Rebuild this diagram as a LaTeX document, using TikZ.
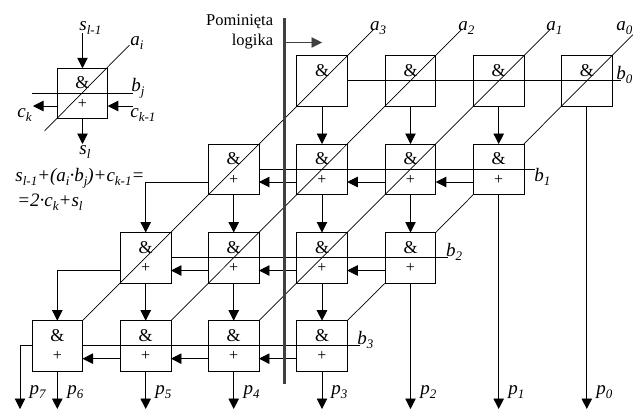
\documentclass[tikz,border=0pt]{standalone}
\usepackage{fontspec}
\setmainfont{Liberation Serif}
\usetikzlibrary{arrows.meta}
\newcommand{\sbx}[1]{\raisebox{-0.22em}{\fontsize{13}{13}\selectfont\itshape #1}}
\begin{document}
\begin{tikzpicture}[x=1pt,y=-1pt,line width=0.85pt,
  cell/.style={draw,rectangle,minimum width=50.5pt,minimum height=50.5pt,inner sep=0pt,outer sep=0pt},
  amp/.style={inner sep=0pt,font=\fontsize{18}{18}\selectfont},
  plus/.style={inner sep=0pt,font=\fontsize{16}{16}\selectfont},
  lab/.style={inner sep=0pt,anchor=base west,font=\fontsize{19}{19}\selectfont\itshape},
  note/.style={inner sep=0pt,anchor=base east,font=\fontsize{16.5}{16.5}\selectfont},
  arr/.style={-{Triangle[length=10.5pt,width=10.5pt]}},
  thin line/.style={line width=0.7pt}]
\useasboundingbox (0,0) rectangle (633,408);
\fill[white] (0,0) rectangle (633,408);
% free ends
\coordinate (ta3) at (373,30);
\coordinate (ta2) at (461,30);
\coordinate (ta1) at (549.5,30);
\coordinate (ta0) at (633,34.5);
\coordinate (eb0) at (621,80.75);
\coordinate (eb1) at (535,169.25);
\coordinate (eb2) at (448,257.75);
\coordinate (eb3) at (360,345.9);
\coordinate (p0) at (586.8,409);
\coordinate (p1) at (498.7,409);
\coordinate (p2) at (410.5,409);
\coordinate (p3) at (322,409);
\coordinate (p4) at (233.7,409);
\coordinate (p5) at (145.7,409);
\coordinate (p6) at (57.3,409);
\coordinate (p7) at (20,409);
% cells
\foreach \n/\x/\y in {r0c0/586.8/80.75,r0c1/498.7/80.75,r0c2/410.5/80.75,r0c3/322/80.75,
  r1c1/498.7/169.25,r1c2/410.5/169.25,r1c3/322/169.25,r1c4/233.7/169.25,
  r2c2/410.5/257.75,r2c3/322/257.75,r2c4/233.7/257.75,r2c5/145.7/257.75,
  r3c3/322/345.9,r3c4/233.7/345.9,r3c5/145.7/345.9,r3c6/57.3/345.9}{
  \node[cell] (\n) at (\x,\y) {};
  \node[amp] (\n-a) at (\x,\y-10.5) {\&};
}
\foreach \n/\x/\y in {r1c1/498.7/169.25,r1c2/410.5/169.25,r1c3/322/169.25,r1c4/233.7/169.25,
  r2c2/410.5/257.75,r2c3/322/257.75,r2c4/233.7/257.75,r2c5/145.7/257.75,
  r3c3/322/345.9,r3c4/233.7/345.9,r3c5/145.7/345.9,r3c6/57.3/345.9}{
  \node[plus] (\n-p) at (\x,\y+10.5) {+};
}
% diagonals a_i
\draw[thin line] (ta3) -- (r3c6.north east);
\draw[thin line] (ta2) -- (r3c5.north east);
\draw[thin line] (ta1) -- (r3c4.north east);
\draw[thin line] (ta0) -- (r0c0.south west) -- (r1c1.north east);
\draw[thin line] (r1c1.south west) -- (r2c2.north east);
\draw[thin line] (r2c2.south west) -- (r3c3.north east);
% horizontals b_j
\draw (r0c3.east) -- (eb0);
\draw (r1c4.east) -- (eb1);
\draw (r2c5.east) -- (eb2);
\draw (r3c6.east) -- (eb3);
% sum arrows between rows
\foreach \a/\b in {r0c3/r1c3,r0c2/r1c2,r0c1/r1c1,r1c4/r2c4,r1c3/r2c3,r1c2/r2c2,r2c5/r3c5,r2c4/r3c4,r2c3/r3c3}
  \draw[arr] (\a.south) -- (\b.north);
% carries
\foreach \a/\b in {r1c1/r1c2,r1c2/r1c3,r1c3/r1c4,r2c2/r2c3,r2c3/r2c4,r2c4/r2c5,r3c3/r3c4,r3c4/r3c5,r3c5/r3c6}
  \draw[arr] ([yshift=-12.75pt]\a.west) -- ([yshift=-12.75pt]\b.east);
\draw[arr] ([yshift=-12.75pt]r1c4.west) -| (r2c5.north);
\draw[arr] ([yshift=-12.75pt]r2c5.west) -| (r3c6.north);
% outputs
\draw[arr] (r0c0.south) -- (p0);
\draw[arr] (r1c1.south) -- (p1);
\draw[arr] (r2c2.south) -- (p2);
\draw[arr] (r3c3.south) -- (p3);
\draw[arr] (r3c4.south) -- (p4);
\draw[arr] (r3c5.south) -- (p5);
\draw[arr] (r3c6.south) -- (p6);
\draw[arr] (r3c6.west) -| (p7);
% skipped-logic bar
\coordinate (bart) at (284.5,18);
\coordinate (barb) at (284.5,384);
\draw[line width=3pt,black!75] (bart) -- (barb);
\coordinate (skips) at (285,42.5);
\coordinate (skipe) at (322,42.5);
\draw[arr,black!75,line width=0.7pt] (skips) -- (skipe);
\node[note] (pom) at (273.5,25) {Pominięta};
\node[note] (log) at (273.5,45) {logika};
% legend
\node[cell] (leg) at (82.5,93.5) {};
\node[amp] (leg-a) at (82.5,83) {\&};
\node[plus] (leg-p) at (82.5,103.5) {+};
\coordinate (lai) at (129.5,45);
\coordinate (lao) at (44.5,131);
\coordinate (lbl) at (32,93.5);
\coordinate (lbr) at (133,93.5);
\coordinate (lst) at (82.5,33);
\coordinate (lsb) at (82.5,144);
\coordinate (lcl) at (33,106);
\coordinate (lcr) at (133,106);
\draw[thin line] (lai) -- (lao);
\draw (lbl) -- (lbr);
\draw[arr] (lst) -- (leg.north);
\draw[arr] (leg.south) -- (lsb);
\draw[arr] ([yshift=-12.5pt]leg.west) -- (lcl);
\draw[arr] (lcr) -- ([yshift=-12.5pt]leg.east);
% labels
\node[lab] (ts) at (79,30) {s\sbx{l-1}};
\node[lab] (tai) at (130,45) {a\sbx{i}};
\node[lab] (tbj) at (131,91.5) {b\sbx{j}};
\node[lab] (tck) at (17,117) {c\sbx{k}};
\node[lab] (tck1) at (130,117) {c\sbx{k-1}};
\node[lab] (tsl) at (79,154) {s\sbx{l}};
\node[lab] (f1) at (15,181.5) {s\sbx{l-1}+(a\sbx{i}·b\sbx{j})+c\sbx{k-1}=};
\node[lab] (f2) at (17,206.5) {=2·c\sbx{k}+s\sbx{l}};
\node[lab] (ta3l) at (369.7,30) {a\sbx{3}};
\node[lab] (ta2l) at (458,30) {a\sbx{2}};
\node[lab] (ta1l) at (546,30) {a\sbx{1}};
\node[lab] (ta0l) at (616,30) {a\sbx{0}};
\node[lab] (tb0) at (616,79) {b\sbx{0}};
\node[lab] (tb1) at (534,181) {b\sbx{1}};
\node[lab] (tb2) at (445.7,256) {b\sbx{2}};
\node[lab] (tb3) at (357,344) {b\sbx{3}};
\node[lab] (tp7) at (29.3,394) {p\sbx{7}};
\node[lab] (tp6) at (67,394) {p\sbx{6}};
\node[lab] (tp5) at (155,394) {p\sbx{5}};
\node[lab] (tp4) at (243.3,394) {p\sbx{4}};
\node[lab] (tp3) at (331,394) {p\sbx{3}};
\node[lab] (tp2) at (420,394) {p\sbx{2}};
\node[lab] (tp1) at (508,394) {p\sbx{1}};
\node[lab] (tp0) at (596,394) {p\sbx{0}};
\end{tikzpicture}
\end{document}
